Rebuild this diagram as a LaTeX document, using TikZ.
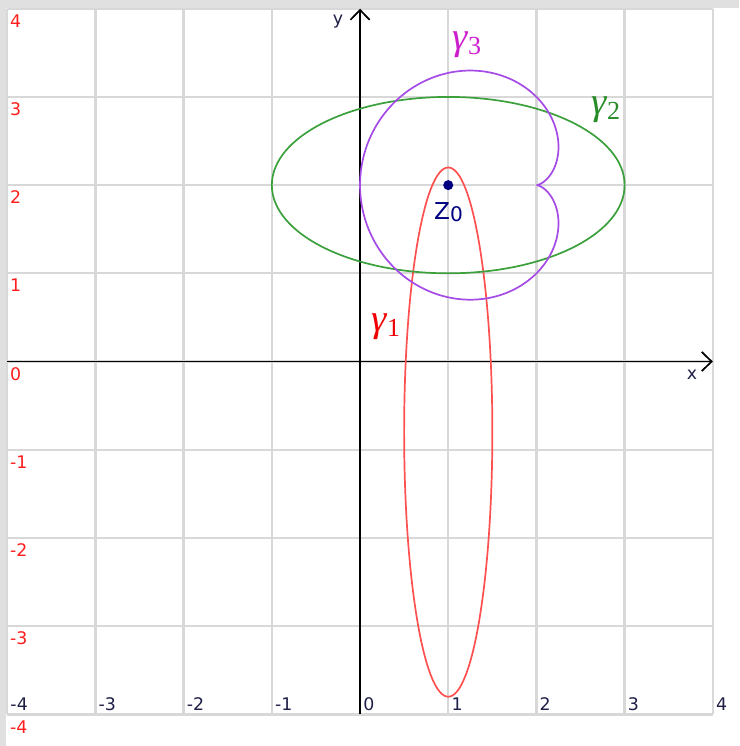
\documentclass[tikz,border=0pt]{standalone}
\usepackage{fontspec}
\setmainfont{DejaVu Sans}
\newfontfamily\gfont{Liberation Serif}
\usetikzlibrary{arrows.meta}
\definecolor{bggray}{RGB}{224,224,224}
\definecolor{gridgray}{RGB}{216,216,216}
\definecolor{tickred}{RGB}{255,30,30}
\definecolor{ticknavy}{RGB}{30,30,70}
\definecolor{curvered}{RGB}{255,80,80}
\definecolor{curvegreen}{RGB}{60,160,60}
\definecolor{curvepurple}{RGB}{165,75,230}
\definecolor{labred}{RGB}{240,0,0}
\definecolor{labmagenta}{RGB}{205,30,205}
\definecolor{labgreen}{RGB}{40,140,40}
\definecolor{dotnavy}{RGB}{0,0,128}
\tikzset{
  gridline/.style={draw=gridgray, line width=0.75pt},
  axisline/.style={draw=black, line width=0.55pt, -{Straight Barb[length=3.2pt,width=6.2pt,line width=0.55pt]}},
  ticky/.style={text=tickred, anchor=west, inner sep=0pt, font=\fontsize{5.6}{5.6}\selectfont},
  tickx/.style={text=ticknavy, anchor=west, inner sep=0pt, font=\fontsize{5.6}{5.6}\selectfont},
  axlabel/.style={text=ticknavy, inner sep=0pt, font=\fontsize{5.6}{5.6}\selectfont},
  curve/.style={line width=0.55pt},
  gamlabel/.style={inner sep=0pt, font=\gfont\fontsize{12.5}{12.5}\selectfont},
}
\newcommand{\gsub}[1]{\raisebox{-1.6pt}{\fontsize{8.4}{8.4}\selectfont\upshape #1}}
\begin{document}
\begin{tikzpicture}[x=1cm,y=1cm]
\useasboundingbox (-4.082,-4.359) rectangle (4.297,4.099);
% background strips
\fill[bggray] (-4.082,4.008) rectangle (4.297,4.099);
\fill[bggray] (-4.082,-4.359) rectangle (-4.014,4.099);
% grid
\foreach \i in {-4,...,4} {
  \draw[gridline] (\i,-4) -- (\i,4);
  \draw[gridline] (-4,\i) -- (4,\i);
}
% axes
\coordinate (xs) at (-4,0);
\coordinate (xe) at (4,0);
\coordinate (ys) at (0,-4);
\coordinate (ye) at (0,4);
\draw[axisline] (xs) -- (xe);
\draw[axisline] (ys) -- (ye);
\node[axlabel] (xlab) at (3.764,-0.153) {x};
\node[axlabel] (ylab) at (-0.249,3.849) {y};
% tick labels
\foreach \i in {-4,...,4} {
  \node[ticky] (ty\i) at (-3.975,\i-0.14) {\i};
  \node[tickx] (tx\i) at (\i+0.03,-3.881) {\i};
}
% curves
\draw[curve, draw=curvered] (1,-0.8) ellipse [x radius=0.5, y radius=3];
\draw[curve, draw=curvegreen] (1,2) ellipse [x radius=2, y radius=1];
\draw[curve, draw=curvepurple] plot[domain=0:360, samples=361, variable=\t]
  ({2+(1-cos(\t))*cos(\t)},{2+(1-cos(\t))*sin(\t)}) -- cycle;
% point z0
\fill[dotnavy] (1,2) circle (0.057);
\node[text=dotnavy, inner sep=0pt, font=\fontsize{7.5}{7.5}\selectfont] (z0) at (1.003,1.695) {Z\raisebox{-0.7pt}{\fontsize{6.5}{6.5}\selectfont 0}};
% curve labels
\node[gamlabel, text=labred] (g1) at (0.295,0.391) {\itshape γ\gsub{1}};
\node[gamlabel, text=labgreen] (g2) at (2.789,2.851) {\itshape γ\gsub{2}};
\node[gamlabel, text=labmagenta] (g3) at (1.213,3.588) {\itshape γ\gsub{3}};
\end{tikzpicture}
\end{document}
